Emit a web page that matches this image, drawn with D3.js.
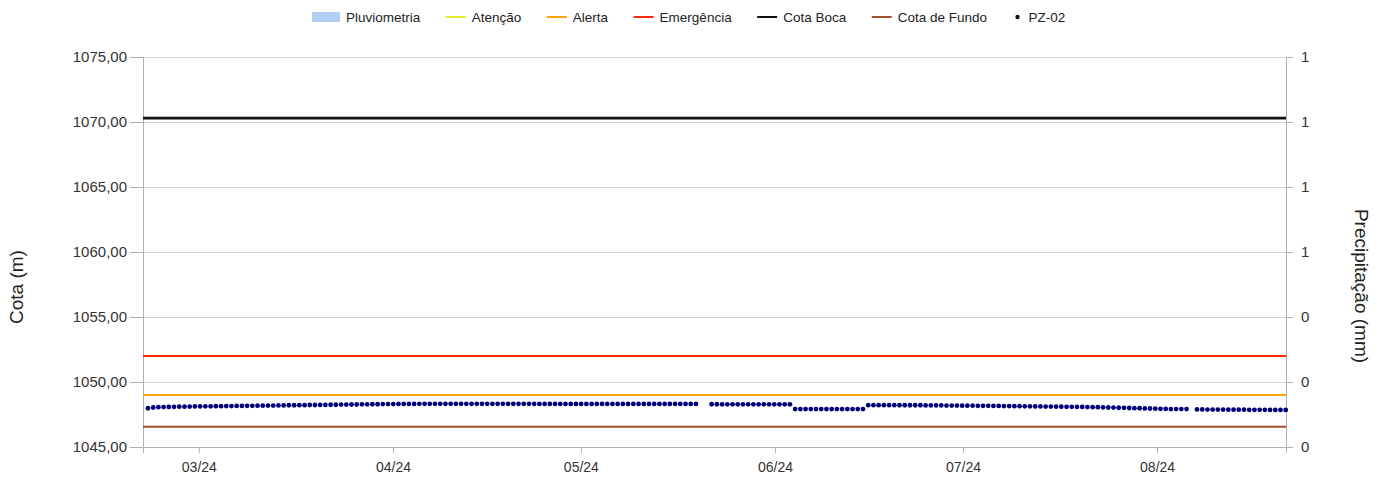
<!DOCTYPE html>
<html lang="pt-BR">
<head>
    <meta charset="UTF-8">
    <title>PZ-02</title>
    <style>
        body { margin: 0; background: #fff; font-family: "Liberation Sans", Arial, sans-serif; }
        .grid line { stroke: #d4d4d4; }
        .grid .domain { display: none; }
        .axis text { fill: #333; }
        .axis line, .axis path { stroke: #b0b0b0; }
    </style>
</head>
<body>
    <svg width="1389" height="478"></svg>

    <script src="https://d3js.org/d3.v7.min.js"></script>
    <script>
        // dimensões
        const width = 1389, height = 478;
        const margin = { top: 57, right: 103, bottom: 31, left: 143 };

        // domínio de datas e eixos
        const dateDomain = ["2024-02-21T02:00", "2024-08-21T14:00"];
        const cotaDomain = [1045, 1075];
        const cotaTicks = [1045, 1050, 1055, 1060, 1065, 1070, 1075];
        const precipDomain = [0, 1.2];
        const precipTicks = [0, 0.2, 0.4, 0.6, 0.8, 1.0, 1.2];

        // níveis de referência (m)
        const niveis = [
            { nome: "Atenção", valor: 1049.0, cor: "#e2ef2c" },
            { nome: "Alerta", valor: 1049.0, cor: "#ffa200" },
            { nome: "Emergência", valor: 1052.0, cor: "#ff2a0a" },
            { nome: "Cota Boca", valor: 1070.3, cor: "#111111" },
            { nome: "Cota de Fundo", valor: 1046.55, cor: "#a0522d" }
        ];

        // pluviometria (sem registros no período)
        const pluviometria = [];

        // leituras PZ-02: início e intervalo entre leituras
        const inicioLeituras = "2024-02-21T21:00";
        const intervaloHoras = 20;
        const pz02 = [
            1047.98, 1048.04, 1048.06, 1048.07, 1048.08, 1048.09, 1048.10, 1048.10, 1048.11, 1048.12,
            1048.12, 1048.13, 1048.13, 1048.14, 1048.14, 1048.15, 1048.15, 1048.16, 1048.16, 1048.17,
            1048.17, 1048.18, 1048.18, 1048.19, 1048.19, 1048.20, 1048.20, 1048.21, 1048.21, 1048.22,
            1048.22, 1048.23, 1048.23, 1048.24, 1048.24, 1048.25, 1048.25, 1048.26, 1048.26, 1048.27,
            1048.27, 1048.28, 1048.28, 1048.29, 1048.29, 1048.30, 1048.30, 1048.30, 1048.31, 1048.31,
            1048.31, 1048.31, 1048.32, 1048.32, 1048.32, 1048.32, 1048.32, 1048.32, 1048.32, 1048.32,
            1048.32, 1048.32, 1048.32, 1048.32, 1048.32, 1048.32, 1048.32, 1048.32, 1048.32, 1048.32,
            1048.32, 1048.32, 1048.32, 1048.32, 1048.32, 1048.31, 1048.31, 1048.31, 1048.31, 1048.31,
            1048.31, 1048.31, 1048.31, 1048.31, 1048.31, 1048.31, 1048.31, 1048.31, 1048.31, 1048.31,
            1048.31, 1048.31, 1048.31, 1048.31, 1048.31, 1048.31, 1048.31, 1048.31, 1048.31, 1048.31,
            1048.31, 1048.31, 1048.31, 1048.31, 1048.31, 1048.31,
            null, null,
            1048.29, 1048.29, 1048.28, 1048.28, 1048.28, 1048.28, 1048.28, 1048.28,
            1048.28, 1048.28, 1048.28, 1048.28, 1048.28, 1048.28, 1048.28, 1048.28,
            1047.92, 1047.92, 1047.92, 1047.92, 1047.92, 1047.92, 1047.92,
            1047.92, 1047.92, 1047.92, 1047.92, 1047.92, 1047.92, 1047.92,
            1048.22, 1048.22, 1048.22, 1048.22, 1048.22, 1048.22, 1048.21, 1048.21, 1048.21, 1048.21,
            1048.21, 1048.20, 1048.20, 1048.20, 1048.20, 1048.19, 1048.19, 1048.19, 1048.18, 1048.18,
            1048.18, 1048.17, 1048.17, 1048.17, 1048.16, 1048.16, 1048.15, 1048.15, 1048.14, 1048.14,
            1048.13, 1048.13, 1048.12, 1048.12, 1048.11, 1048.11, 1048.10, 1048.10, 1048.09, 1048.09,
            1048.08, 1048.08, 1048.07, 1048.06, 1048.06, 1048.05, 1048.04, 1048.03, 1048.02, 1048.01,
            1048.00, 1047.99, 1047.98, 1047.97, 1047.96, 1047.95, 1047.94, 1047.93, 1047.92, 1047.92,
            1047.92, 1047.92,
            null,
            1047.89, 1047.89, 1047.88, 1047.88, 1047.88, 1047.88, 1047.87, 1047.87, 1047.87,
            1047.87, 1047.86, 1047.86, 1047.86, 1047.86, 1047.85, 1047.85, 1047.85, 1047.85
        ];

        const legenda = ["Pluviometria", "Atenção", "Alerta", "Emergência", "Cota Boca", "Cota de Fundo", "PZ-02"];

        const svg = d3.select("svg");
        const ptBR = d3.formatLocale({ decimal: ",", thousands: ".", grouping: [3], currency: ["R$", ""] });

        const x = d3.scaleTime()
            .domain(dateDomain.map(d => new Date(d)))
            .range([margin.left, width - margin.right]);
        const y = d3.scaleLinear().domain(cotaDomain).range([height - margin.bottom, margin.top]);
        const y2 = d3.scaleLinear().domain(precipDomain).range([height - margin.bottom, margin.top]);

        // grade horizontal
        svg.append("g")
            .attr("class", "grid")
            .attr("transform", `translate(${margin.left},0)`)
            .call(d3.axisLeft(y).tickValues(cotaTicks).tickSize(-(width - margin.left - margin.right)).tickFormat(""));

        // eixos
        svg.append("g")
            .attr("class", "axis")
            .attr("transform", `translate(${margin.left},0)`)
            .call(d3.axisLeft(y).tickValues(cotaTicks).tickSize(13).tickPadding(3).tickFormat(ptBR.format(".2f")))
            .style("font-size", "15px")
            .style("font-family", "Liberation Sans, Arial, sans-serif");

        svg.append("g")
            .attr("class", "axis")
            .attr("transform", `translate(${width - margin.right},0)`)
            .call(d3.axisRight(y2).tickValues(precipTicks).tickSize(7).tickPadding(8).tickFormat(d3.format(".0f")))
            .style("font-size", "15px")
            .style("font-family", "Liberation Sans, Arial, sans-serif");

        svg.append("g")
            .attr("class", "axis")
            .attr("transform", `translate(0,${height - margin.bottom})`)
            .call(d3.axisBottom(x).ticks(d3.timeMonth.every(1)).tickSize(6).tickPadding(9).tickFormat(d3.timeFormat("%m/%y")))
            .style("font-size", "14px")
            .style("font-family", "Liberation Sans, Arial, sans-serif");

        // títulos dos eixos
        svg.append("text")
            .attr("transform", "translate(23,287) rotate(-90)")
            .attr("text-anchor", "middle")
            .style("font-size", "19px")
            .attr("fill", "#222")
            .text("Cota (m)");

        svg.append("text")
            .attr("transform", "translate(1355,286) rotate(90)")
            .attr("text-anchor", "middle")
            .style("font-size", "19px")
            .attr("fill", "#222")
            .text("Precipitação (mm)");

        // barras de pluviometria
        svg.append("g").selectAll("rect")
            .data(pluviometria)
            .join("rect")
            .attr("x", d => x(new Date(d.data)) - 2)
            .attr("width", 4)
            .attr("y", d => y2(d.valor))
            .attr("height", d => y2(0) - y2(d.valor))
            .attr("fill", "#a9c9f2");

        // linhas de referência
        svg.append("g").selectAll("line")
            .data(niveis)
            .join("line")
            .attr("x1", x.range()[0])
            .attr("x2", x.range()[1])
            .attr("y1", d => y(d.valor))
            .attr("y2", d => y(d.valor))
            .attr("stroke", d => d.cor)
            .attr("stroke-width", d => d.nome === "Cota Boca" ? 2.6 : 2);

        // leituras
        const t0 = new Date(inicioLeituras).getTime();
        const leituras = pz02
            .map((v, i) => ({ data: new Date(t0 + i * intervaloHoras * 3600e3), valor: v }))
            .filter(d => d.valor !== null);

        svg.append("g").selectAll("circle")
            .data(leituras)
            .join("circle")
            .attr("cx", d => x(d.data))
            .attr("cy", d => y(d.valor))
            .attr("r", 2.4)
            .attr("fill", "#00007a");

        // legenda
        const cores = {};
        niveis.forEach(n => cores[n.nome] = n.cor);
        const leg = svg.append("g").style("font-size", "13.5px").attr("fill", "#222");
        let lx = 312;
        legenda.forEach(nome => {
            const item = leg.append("g").attr("transform", `translate(${lx},17)`);
            let sw;
            if (nome === "Pluviometria") {
                item.append("rect").attr("x", 0).attr("y", -5).attr("width", 28).attr("height", 10)
                    .attr("fill", "#a9c9f2").attr("opacity", 0.9);
                sw = 28;
            } else if (nome === "PZ-02") {
                item.append("circle").attr("cx", 5).attr("cy", 0).attr("r", 2.2).attr("fill", "#111");
                sw = 10;
            } else {
                item.append("line").attr("x1", 0).attr("x2", 20).attr("y1", 0).attr("y2", 0)
                    .attr("stroke", cores[nome]).attr("stroke-width", 2);
                sw = 20;
            }
            const t = item.append("text").attr("x", sw + 6).attr("dy", "0.35em").text(nome);
            lx += sw + 6 + t.node().getComputedTextLength() + 25.5;
        });
    </script>
</body>
</html>
